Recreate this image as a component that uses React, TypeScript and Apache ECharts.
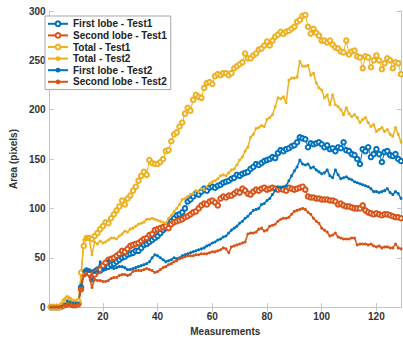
import React, { useEffect, useRef } from "react";
import * as echarts from "echarts";

// Measurement index 1..129
const measurements: number[] = Array.from({ length: 129 }, (_, i) => i + 1);

const firstLobeTest1 = [
  0, 0, 0, 0, 1, 3, 5, 4, 3, 3,
  4, 20, 35, 37, 36, 30, 36, 38, 37, 39,
  40, 41, 43, 44, 46, 48, 50, 51, 53, 54,
  55, 57, 57, 60, 63, 64, 66, 68, 70, 72,
  75, 78, 80, 83, 87, 90, 93, 94, 96, 100,
  107, 109, 112, 115, 114, 117, 120, 118, 121, 122,
  121, 123, 124, 126, 127, 128, 130, 131, 134, 133,
  135, 136, 137, 140, 142, 145, 144, 146, 148, 149,
  150, 152, 151, 156, 159, 158, 160, 161, 163, 164,
  167, 172, 171, 170, 162, 166, 165, 166, 167, 165,
  162, 164, 160, 161, 158, 162, 161, 167, 159, 158,
  155, 154, 150, 145, 160, 158, 162, 152, 155, 160,
  155, 147, 157, 158, 154, 153, 155, 150, 148,
];

const secondLobeTest1 = [
  0, 0, 0, 0, 1, 2, 3, 3, 2, 2,
  3, 18, 33, 35, 34, 28, 33, 36, 38, 42,
  45, 48, 49, 50, 52, 54, 57, 56, 59, 62,
  63, 64, 65, 67, 69, 70, 73, 74, 78, 79,
  80, 81, 82, 80, 84, 86, 87, 88, 89, 91,
  92, 94, 96, 97, 100, 103, 105, 104, 107, 108,
  106, 103, 110, 112, 111, 113, 113, 115, 117, 116,
  120, 118, 115, 114, 117, 119, 118, 120, 121, 119,
  120, 121, 120, 119, 120, 119, 118, 121, 120, 119,
  120, 121, 122, 119, 112, 111, 111, 110, 110, 109,
  109, 109, 108, 108, 107, 104, 105, 103, 102, 102,
  101, 100, 100, 100, 103, 98, 96, 95, 94, 95,
  94, 93, 94, 94, 93, 92, 91, 91, 90,
];

const totalTest1 = [
  0, 0, 0, 0, 2, 6, 9, 7, 5, 4,
  6, 35, 62, 70, 70, 69, 72, 75, 79, 82,
  86, 85, 90, 94, 98, 102, 108, 104, 110, 113,
  118, 122, 128, 133, 137, 134, 149, 146, 145, 145,
  147, 150, 158, 159, 168, 175, 177, 183, 187, 196,
  202, 199, 210, 215, 213, 212, 222, 227, 228, 226,
  234, 236, 235, 237, 237, 235, 237, 242, 244, 246,
  248, 257, 252, 252, 255, 257, 261, 262, 265, 269,
  265, 270, 274, 276, 279, 277, 279, 280, 282, 284,
  289, 291, 295, 296, 284, 277, 282, 278, 275, 270,
  270, 268, 270, 266, 263, 262, 259, 258, 270, 256,
  259, 260, 254, 253, 242, 254, 253, 243, 250, 255,
  250, 241, 247, 252, 250, 242, 248, 247, 236,
];

const totalTest2 = [
  0, 0, 0, 0, 2, 7, 10, 8, 6, 5,
  5, 30, 68, 70, 69, 53, 66, 64, 67, 65,
  66, 68, 70, 70, 69, 72, 74, 77, 76, 79,
  80, 82, 84, 85, 86, 89, 89, 90, 89, 88,
  87, 86, 85, 90, 93, 97, 100, 104, 109, 110,
  112, 114, 115, 118, 117, 120, 119, 122, 125, 127,
  128, 130, 133, 134, 133, 136, 139, 140, 144, 149,
  152, 158, 162, 172, 175, 181, 182, 184, 183, 190,
  192, 195, 203, 212, 211, 213, 207, 230, 232, 232,
  233, 249, 244, 244, 245, 235, 237, 227, 222, 220,
  212, 215, 205, 215, 205, 203, 200, 195, 202, 196,
  193, 195, 192, 187, 190, 192, 187, 183, 185, 178,
  180, 182, 178, 180, 175, 173, 182, 175, 167,
];

const firstLobeTest2 = [
  0, 0, 0, 0, 1, 3, 6, 5, 4, 4,
  4, 22, 36, 37, 36, 28, 35, 36, 46, 38,
  39, 47, 40, 39, 40, 41, 41, 40, 38, 38,
  39, 40, 41, 42, 43, 44, 46, 50, 53, 52,
  50, 48, 46, 47, 48, 50, 49, 50, 52, 53,
  54, 55, 56, 57, 58, 59, 60, 62, 63, 65,
  66, 68, 69, 71, 72, 75, 78, 80, 82, 85,
  87, 90, 92, 95, 98, 99, 100, 104, 105, 108,
  110, 114, 118, 122, 121, 122, 123, 128, 133, 138,
  142, 149, 145, 144, 145, 141, 142, 139, 137, 135,
  136, 139, 133, 131, 139, 134, 130, 131, 132, 130,
  129, 127, 126, 125, 124, 123, 122, 120, 117, 117,
  116, 117, 118, 120, 116, 114, 117, 115, 110,
];

const secondLobeTest2 = [
  0, 0, 0, 0, 0, 2, 3, 3, 2, 2,
  3, 18, 32, 34, 31, 20, 28, 27, 27, 26,
  26, 27, 29, 30, 30, 32, 33, 33, 32, 33,
  36, 37, 37, 37, 38, 39, 38, 37, 35, 36,
  38, 40, 41, 43, 44, 46, 47, 49, 50, 51,
  52, 52, 52, 53, 53, 54, 54, 54, 55, 56,
  56, 57, 58, 60, 59, 55, 61, 62, 63, 64,
  65, 66, 74, 75, 75, 76, 79, 80, 77, 78,
  82, 83, 84, 87, 89, 90, 90, 91, 94, 97,
  98, 99, 100, 99, 96, 94, 90, 87, 85, 80,
  78, 76, 72, 73, 75, 71, 70, 69, 69, 69,
  70, 70, 63, 64, 64, 64, 63, 64, 62, 61,
  62, 60, 61, 61, 60, 60, 64, 60, 59,
];

const seriesNames = [
  "First lobe - Test1",
  "Second lobe - Test1",
  "Total - Test1",
  "Total - Test2",
  "First lobe - Test2",
  "Second lobe - Test2",
];

const xTickValues = [20, 40, 60, 80, 100, 120];
const yTickValues = [0, 50, 100, 150, 200, 250, 300];

const BLUE = "#0072BD";
const ORANGE = "#D95319";
const YELLOW = "#EDB120";
const AXIS_GRAY = "#c4c4c4";
const TEXT = "#333333";
const FONT = "'Liberation Sans', Arial, Helvetica, sans-serif";

function pairs(values: number[]) {
  return measurements.map((m, i) => [m, values[i]]);
}

export default function App() {
  const ref = useRef<HTMLDivElement>(null);

  useEffect(() => {
    if (!ref.current) return;
    const chart = echarts.init(ref.current, null, { renderer: "svg" });

    const defs = [
      { name: seriesNames[0], data: firstLobeTest1, color: BLUE, open: true },
      { name: seriesNames[1], data: secondLobeTest1, color: ORANGE, open: true },
      { name: seriesNames[2], data: totalTest1, color: YELLOW, open: true },
      { name: seriesNames[3], data: totalTest2, color: YELLOW, open: false },
      { name: seriesNames[4], data: firstLobeTest2, color: BLUE, open: false },
      { name: seriesNames[5], data: secondLobeTest2, color: ORANGE, open: false },
    ];

    const series = defs.map((d) => ({
      type: "line",
      name: d.name,
      xAxisIndex: 0,
      yAxisIndex: 0,
      data: pairs(d.data),
      symbol: d.open ? "emptyCircle" : "circle",
      symbolSize: d.open ? 4.5 : 3,
      showAllSymbol: true,
      lineStyle: { color: d.color, width: d.open ? 1 : 1.5 },
      itemStyle: { color: d.color, borderColor: d.color, borderWidth: d.open ? 0.8 : 0 },
      emphasis: { disabled: true },
    }));

    const commonTick = {
      show: true,
      inside: true,
      length: 4,
      lineStyle: { color: AXIS_GRAY, width: 1 },
    };

    chart.setOption({
      animation: false,
      backgroundColor: "#ffffff",
      textStyle: { fontFamily: FONT },
      grid: { left: 39, top: 11, width: 362, height: 301, containLabel: false },
      legend: {
        data: seriesNames,
        orient: "vertical",
        left: 45,
        top: 16,
        padding: [2, 4, 2, 2],
        itemGap: 0,
        itemWidth: 20,
        itemHeight: 6,
        backgroundColor: "#ffffff",
        borderColor: "#a8a8a8",
        borderWidth: 1,
        borderRadius: 0,
        textStyle: { fontSize: 10, fontWeight: "bold", color: "#222", fontFamily: FONT, lineHeight: 11.6 },
      },
      xAxis: [
        {
          type: "value",
          min: 0.5,
          max: 129,
          position: "bottom",
          name: "Measurements",
          nameLocation: "middle",
          nameGap: 17,
          nameTextStyle: { fontSize: 10, fontWeight: "bold", color: TEXT, fontFamily: FONT },
          axisLine: { show: true, lineStyle: { color: AXIS_GRAY, width: 1 } },
          axisTick: { ...commonTick, customValues: xTickValues },
          axisLabel: {
            customValues: xTickValues,
            fontSize: 10,
            fontWeight: "bold",
            color: TEXT,
            margin: 4,
            fontFamily: FONT,
          },
          splitLine: { show: false },
        },
        {
          type: "value",
          min: 0.5,
          max: 129,
          position: "top",
          axisLine: { show: true, lineStyle: { color: AXIS_GRAY, width: 1 } },
          axisTick: { ...commonTick, customValues: xTickValues },
          axisLabel: { show: false },
          splitLine: { show: false },
        },
      ],
      yAxis: [
        {
          type: "value",
          min: 0,
          max: 300,
          interval: 50,
          position: "left",
          name: "Area (pixels)",
          nameLocation: "middle",
          nameGap: 22,
          nameTextStyle: { fontSize: 10, fontWeight: "bold", color: TEXT, fontFamily: FONT },
          axisLine: { show: true, lineStyle: { color: AXIS_GRAY, width: 1 } },
          axisTick: { ...commonTick, customValues: yTickValues },
          axisLabel: {
            customValues: yTickValues,
            fontSize: 10,
            fontWeight: "bold",
            color: TEXT,
            margin: 4,
            fontFamily: FONT,
          },
          splitLine: { show: false },
        },
        {
          type: "value",
          min: 0,
          max: 300,
          interval: 50,
          position: "right",
          axisLine: { show: true, lineStyle: { color: AXIS_GRAY, width: 1 } },
          axisTick: { ...commonTick, customValues: yTickValues },
          axisLabel: { show: false },
          splitLine: { show: false },
        },
      ],
      series,
    });

    return () => chart.dispose();
  }, []);

  return (
    <div
      ref={ref}
      style={{ position: "absolute", left: 0, top: 0, width: 403, height: 341, background: "#fff" }}
    />
  );
}
